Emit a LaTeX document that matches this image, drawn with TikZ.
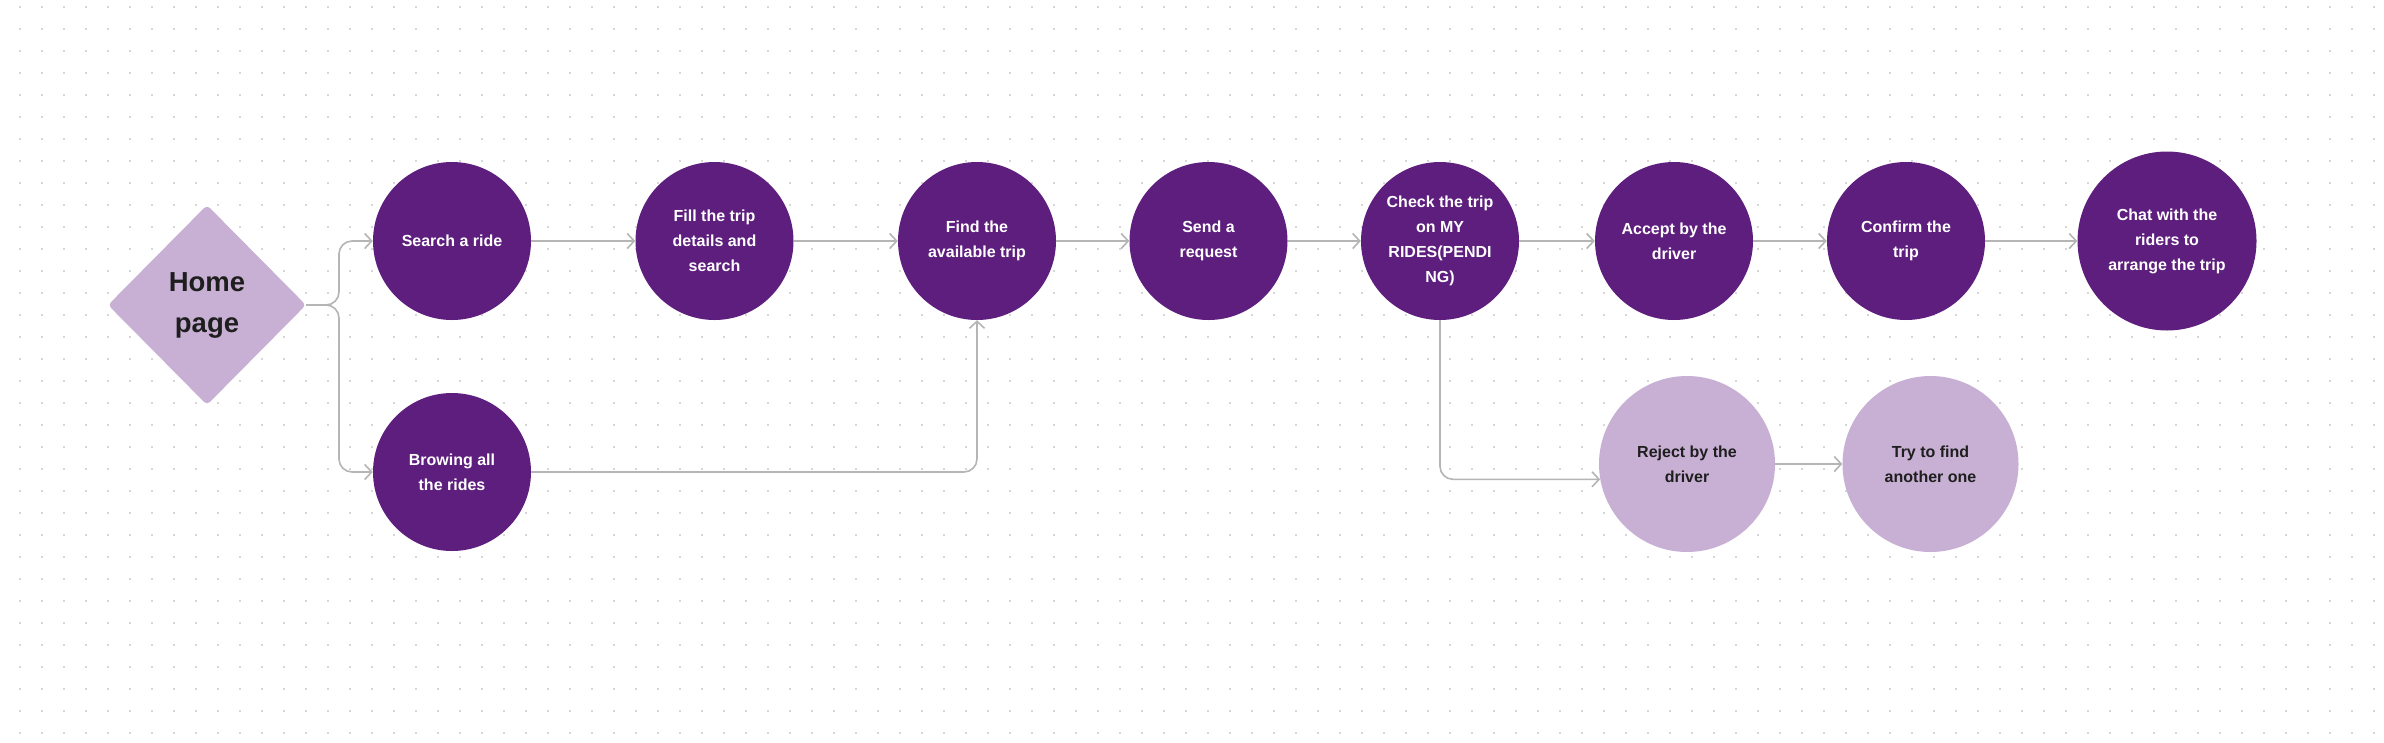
\documentclass[tikz,border=0pt]{standalone}
\usepackage{fontspec}
\setmainfont{Liberation Sans}
\usetikzlibrary{arrows.meta,shapes.geometric}
\definecolor{darkp}{HTML}{5E1E7E}
\definecolor{lightp}{HTML}{C8B0D5}
\definecolor{hometxt}{HTML}{1E1E1E}
\definecolor{linec}{HTML}{B5B5B5}
\definecolor{dotc}{HTML}{D6D6D6}
\tikzset{
  darkstep/.style={circle, fill=darkp, text=white, minimum size=158pt, inner sep=0pt, align=center,
    font=\bfseries\fontsize{16}{25}\selectfont},
  lightstep/.style={circle, fill=lightp, text=hometxt, minimum size=176pt, inner sep=0pt, align=center,
    font=\bfseries\fontsize{16}{25}\selectfont},
  homebox/.style={diamond, fill=lightp, text=hometxt, minimum width=198pt, minimum height=200pt, inner sep=0pt,
    rounded corners=4pt, align=center, font=\bfseries\fontsize{27.5}{41}\selectfont},
  conn/.style={draw=linec, line width=1.6pt, rounded corners=13pt,
    -{Straight Barb[length=7pt,width=15pt,line width=1.6pt]}},
}
\begin{document}
\begin{tikzpicture}[x=1pt,y=-1pt]
\fill[white] (0,0) rectangle (2384,742);
\useasboundingbox (0,0) rectangle (2384,742);
\foreach \i in {0,...,108}{
  \foreach \j in {0,...,33}{
    \fill[dotc] ({20+22*\i-1},{7.3+22*\j-1}) rectangle ++(2,2);
  }
}
\node[homebox] (home) at (207,305) {Home\\page};
\node[darkstep] (search) at (452,241) {Search a ride};
\node[darkstep] (browse) at (452,472) {Browing all\\the rides};
\node[darkstep] (fill) at (714.5,241) {Fill the trip\\details and\\search};
\node[darkstep] (find) at (977,241) {Find the\\available trip};
\node[darkstep] (send) at (1208.5,241) {Send a\\request};
\node[darkstep] (check) at (1440,241) {Check the trip\\on MY\\RIDES(PENDI\\NG)};
\node[darkstep] (accept) at (1674,241) {Accept by the\\driver};
\node[darkstep] (confirm) at (1906,241) {Confirm the\\trip};
\node[darkstep, minimum size=179pt] (chat) at (2167,241) {Chat with the\\riders to\\arrange the trip};
\node[lightstep] (reject) at (1687,464) {Reject by the\\driver};
\node[lightstep] (try) at (1930.5,464) {Try to find\\another one};

\coordinate (split) at (339,305);
\draw[conn] (home.east) -- (split) |- (search.west);
\draw[conn] (home.east) -- (split) |- (browse.west);
\draw[conn] (search) -- (fill);
\draw[conn] (fill) -- (find);
\draw[conn] (browse.east) -| (find.south);
\draw[conn] (find) -- (send);
\draw[conn] (send) -- (check);
\draw[conn] (check) -- (accept);
\draw[conn] (accept) -- (confirm);
\draw[conn] (confirm) -- (chat);
\draw[conn] (check.south) |- (reject.190);
\draw[conn] (reject) -- (try);
\end{tikzpicture}
\end{document}
